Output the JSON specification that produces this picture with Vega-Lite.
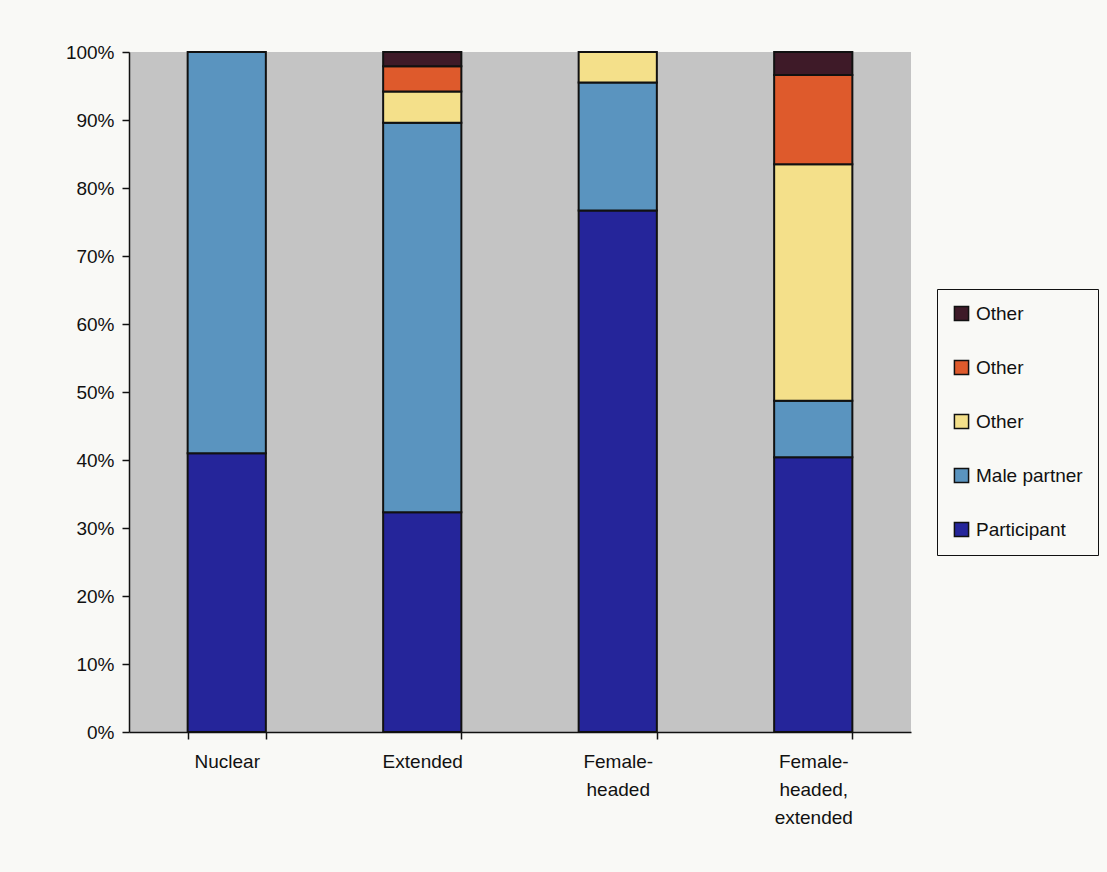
{
  "$schema": "https://vega.github.io/schema/vega-lite/v6.json",
  "width": 782,
  "height": 680,
  "autosize": {"type": "none"},
  "padding": {"left": 129, "top": 52, "right": 196, "bottom": 140},
  "background": "#f9f9f6",
  "config": {
    "font": "Liberation Sans",
    "view": {"fill": "#c4c4c4", "stroke": null},
    "axis": {
      "labelFont": "Liberation Sans",
      "labelFontSize": 19,
      "labelColor": "#111111",
      "domainColor": "#111111",
      "domainWidth": 1.5,
      "tickColor": "#111111",
      "tickWidth": 1.5,
      "tickSize": 7,
      "grid": false,
      "title": null
    }
  },
  "data": {
    "values": [
      {"household": "Nuclear", "series": "Participant", "ord": 1, "pct": 41.0},
      {"household": "Nuclear", "series": "Male partner", "ord": 2, "pct": 59.0},
      {"household": "Extended", "series": "Participant", "ord": 1, "pct": 32.3},
      {"household": "Extended", "series": "Male partner", "ord": 2, "pct": 57.3},
      {"household": "Extended", "series": "Other3", "ord": 3, "pct": 4.6},
      {"household": "Extended", "series": "Other2", "ord": 4, "pct": 3.7},
      {"household": "Extended", "series": "Other1", "ord": 5, "pct": 2.1},
      {"household": "Female-headed", "series": "Participant", "ord": 1, "pct": 76.7},
      {"household": "Female-headed", "series": "Male partner", "ord": 2, "pct": 18.8},
      {"household": "Female-headed", "series": "Other3", "ord": 3, "pct": 4.5},
      {"household": "Female-headed, extended", "series": "Participant", "ord": 1, "pct": 40.4},
      {"household": "Female-headed, extended", "series": "Male partner", "ord": 2, "pct": 8.3},
      {"household": "Female-headed, extended", "series": "Other3", "ord": 3, "pct": 34.8},
      {"household": "Female-headed, extended", "series": "Other2", "ord": 4, "pct": 13.1},
      {"household": "Female-headed, extended", "series": "Other1", "ord": 5, "pct": 3.4}
    ]
  },
  "mark": {"type": "bar", "stroke": "#111111", "strokeWidth": 2},
  "encoding": {
    "x": {
      "field": "household",
      "type": "nominal",
      "sort": ["Nuclear", "Extended", "Female-headed", "Female-headed, extended"],
      "scale": {"paddingInner": 0.6, "paddingOuter": 0.3},
      "axis": {
        "labelAngle": 0,
        "tickBand": "extent",
        "labelPadding": 13,
        "labelLineHeight": 28,
        "labelBaseline": "top",
        "labelExpr": "datum.value == 'Female-headed' ? ['Female-', 'headed'] : datum.value == 'Female-headed, extended' ? ['Female-', 'headed,', 'extended'] : datum.value"
      }
    },
    "y": {
      "field": "pct",
      "type": "quantitative",
      "stack": "zero",
      "scale": {"domain": [0, 100], "nice": false},
      "axis": {
        "values": [0, 10, 20, 30, 40, 50, 60, 70, 80, 90, 100],
        "labelPadding": 8,
        "labelExpr": "datum.value + '%'"
      }
    },
    "order": {"field": "ord", "type": "quantitative", "sort": "ascending"},
    "color": {
      "field": "series",
      "type": "nominal",
      "scale": {
        "domain": ["Other1", "Other2", "Other3", "Male partner", "Participant"],
        "range": ["#3e1a28", "#de5a2c", "#f4e08a", "#5a94bf", "#25259a"]
      },
      "legend": {
        "title": null,
        "orient": "none",
        "legendX": 808,
        "legendY": 237,
        "direction": "vertical",
        "padding": 15,
        "rowPadding": 33,
        "strokeColor": "#111111",
        "fillColor": "#f9f9f6",
        "symbolType": "square",
        "symbolSize": 200,
        "symbolStrokeColor": "#111111",
        "symbolStrokeWidth": 1.5,
        "symbolOpacity": 1,
        "labelFont": "Liberation Sans",
        "labelFontSize": 19,
        "labelColor": "#111111",
        "labelOffset": 5,
        "labelExpr": "indexof(datum.value, 'Other') == 0 ? 'Other' : datum.value"
      }
    }
  }
}
